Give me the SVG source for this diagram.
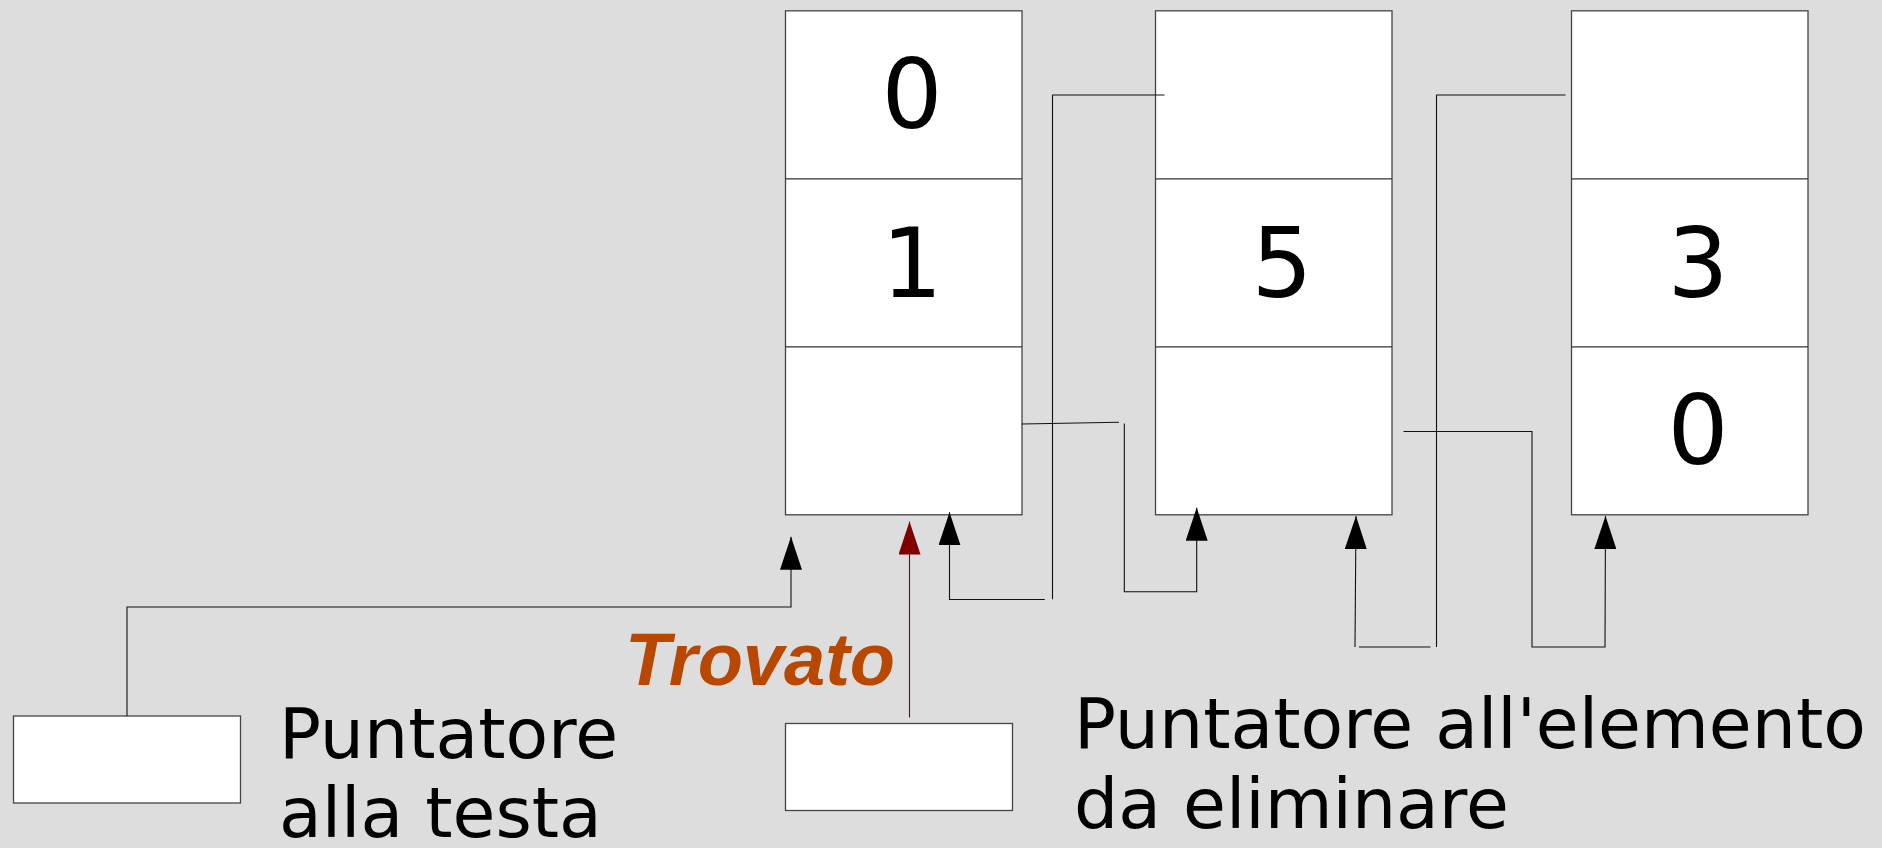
<svg xmlns="http://www.w3.org/2000/svg" width="1882" height="848" viewBox="0 0 1882 848">
<style>
.cell{fill:#ffffff;stroke:#444444;stroke-width:1.3}
.div{stroke:#333333;stroke-width:1.2}
.digit{font-family:"DejaVu Sans",sans-serif;font-size:96px;fill:#000000;text-anchor:middle}
.lbl{font-family:"DejaVu Sans",sans-serif;font-size:69.7px;fill:#000000}
.found{font-family:"Liberation Sans",Arial,sans-serif;font-weight:bold;font-style:italic;font-size:74px;fill:#b84700}
.con{fill:none;stroke:#111111;stroke-width:1.1}
.conr{fill:none;stroke:#800000;stroke-width:1.1}
</style>
<defs>
<marker id="ah" markerUnits="userSpaceOnUse" viewBox="0 0 33 22" refX="33" refY="11" markerWidth="33" markerHeight="22" orient="auto">
<path d="M0,0 L33,11 L0,22 z" fill="#000000"/>
</marker>
<marker id="ahr" markerUnits="userSpaceOnUse" viewBox="0 0 33 22" refX="33" refY="11" markerWidth="33" markerHeight="22" orient="auto">
<path d="M0,0 L33,11 L0,22 z" fill="#800000"/>
</marker>
</defs>
<rect x="0" y="0" width="1882" height="848" fill="#dddddd"/>

<g id="node1">
<rect class="cell" x="785.5" y="10.8" width="236.5" height="504"/>
<line class="div" x1="785.5" y1="178.8" x2="1022" y2="178.8"/>
<line class="div" x1="785.5" y1="346.8" x2="1022" y2="346.8"/>
<text class="digit" x="912" y="128">0</text>
<text class="digit" x="912" y="296.5">1</text>
</g>

<g id="node2">
<rect class="cell" x="1155.5" y="10.8" width="236.5" height="504"/>
<line class="div" x1="1155.5" y1="178.8" x2="1392" y2="178.8"/>
<line class="div" x1="1155.5" y1="346.8" x2="1392" y2="346.8"/>
<text class="digit" x="1282" y="296.5">5</text>
</g>

<g id="node3">
<rect class="cell" x="1571.5" y="10.8" width="236.5" height="504"/>
<line class="div" x1="1571.5" y1="178.8" x2="1808" y2="178.8"/>
<line class="div" x1="1571.5" y1="346.8" x2="1808" y2="346.8"/>
<text class="digit" x="1698" y="297">3</text>
<text class="digit" x="1698" y="464">0</text>
</g>

<g id="head-pointer">
<rect class="cell" x="13.5" y="716" width="227" height="87"/>
<text class="lbl" x="279" y="758.3">Puntatore</text>
<text class="lbl" x="279" y="837">alla testa</text>
</g>

<g id="target-pointer">
<rect class="cell" x="785.5" y="723.5" width="227" height="87"/>
<text class="lbl" x="1074" y="747.7">Puntatore all'elemento</text>
<text class="lbl" x="1074" y="828.3">da eliminare</text>
</g>

<g id="label-trovato">
<text class="found" x="625" y="684.5">Trovato</text>
</g>

<g id="connectors">
<polyline class="con" points="127,716 127,607 791,607 791,536.7" marker-end="url(#ah)"/>
<polyline class="conr" points="909.5,717.5 909.5,521.5" marker-end="url(#ahr)"/>
<line class="con" x1="1021.8" y1="424" x2="1119" y2="422.3"/>
<polyline class="con" points="1124.3,423.5 1124.3,591.7 1196.7,591.7 1196.7,507.7" marker-end="url(#ah)"/>
<polyline class="con" points="1164.5,95 1052.5,95 1052.5,599.3"/>
<polyline class="con" points="1044.7,599.5 949.5,599.5 949.5,512.3" marker-end="url(#ah)"/>
<polyline class="con" points="1403.5,431.5 1532,431.5 1532,647 1605,647 1605.5,516" marker-end="url(#ah)"/>
<polyline class="con" points="1565.5,95 1436.5,95 1436.5,647"/>
<line class="con" x1="1430.5" y1="647" x2="1359" y2="647"/>
<line class="con" x1="1355" y1="647" x2="1356" y2="516" marker-end="url(#ah)"/>
</g>
</svg>
